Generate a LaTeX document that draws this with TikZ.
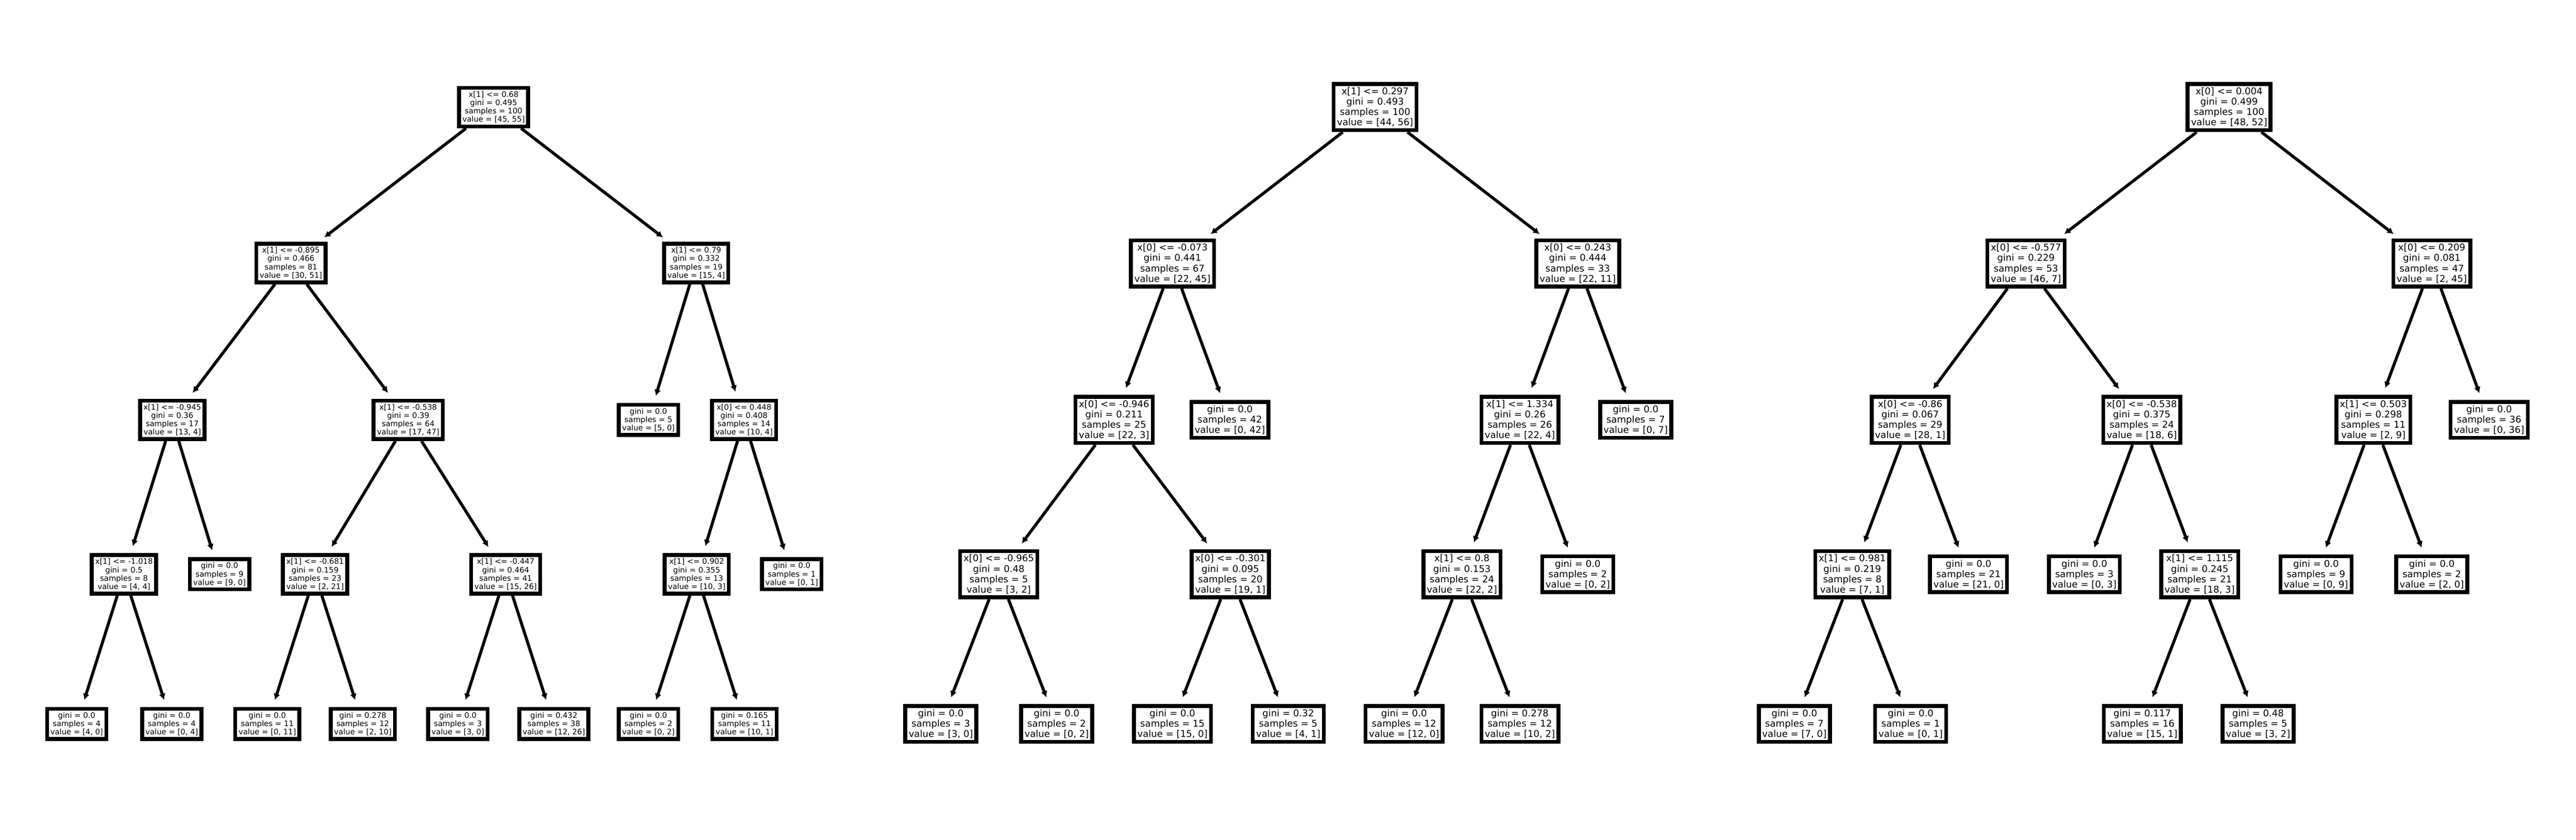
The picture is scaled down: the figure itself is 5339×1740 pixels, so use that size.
\documentclass[tikz,border=0pt]{standalone}
\usepackage{fontspec}
\setmainfont{DejaVu Sans}
\usetikzlibrary{arrows.meta}

\begin{document}
\begin{tikzpicture}[x=0.01cm, y=-0.01cm,
    box/.style={draw, fill=white, line width=0.08cm, inner sep=0.07cm, align=center},
    small/.style={box, font=\fontsize{4.5}{4.9}\selectfont},
    big/.style={box, font=\fontsize{5.5}{6.1}\selectfont},
    edge/.style={line width=0.062cm, -{Latex[length=0.13cm,width=0.14cm]}, shorten >=0.15cm}]
    \useasboundingbox (0,0) rectangle (5339,1740);

    %tree 1
    \node[small] (A) at (1023, 222) %
         {x[1] <= 0.68\\gini = 0.495\\samples = 100\\value = [45, 55]};
    \node[small] (AL) at (603, 545) %
         {x[1] <= -0.895\\gini = 0.466\\samples = 81\\value = [30, 51]};
    \node[small] (AR) at (1443, 545) %
         {x[1] <= 0.79\\gini = 0.332\\samples = 19\\value = [15, 4]};
    \node[small] (ALL) at (357, 870) %
         {x[1] <= -0.945\\gini = 0.36\\samples = 17\\value = [13, 4]};
    \node[small] (ALR) at (846, 870) %
         {x[1] <= -0.538\\gini = 0.39\\samples = 64\\value = [17, 47]};
    \node[small] (ARL) at (1344, 870) %
         {gini = 0.0\\samples = 5\\value = [5, 0]};
    \node[small] (ARR) at (1542, 870) %
         {x[0] <= 0.448\\gini = 0.408\\samples = 14\\value = [10, 4]};
    \node[small] (ALLL) at (257, 1190) %
         {x[1] <= -1.018\\gini = 0.5\\samples = 8\\value = [4, 4]};
    \node[small] (ALLR) at (455, 1190) %
         {gini = 0.0\\samples = 9\\value = [9, 0]};
    \node[small] (ALRL) at (653, 1190) %
         {x[1] <= -0.681\\gini = 0.159\\samples = 23\\value = [2, 21]};
    \node[small] (ALRR) at (1048, 1190) %
         {x[1] <= -0.447\\gini = 0.464\\samples = 41\\value = [15, 26]};
    \node[small] (ARRL) at (1444, 1190) %
         {x[1] <= 0.902\\gini = 0.355\\samples = 13\\value = [10, 3]};
    \node[small] (ARRR) at (1641, 1190) %
         {gini = 0.0\\samples = 1\\value = [0, 1]};
    \node[small] (ALLLL) at (159, 1500) %
         {gini = 0.0\\samples = 4\\value = [4, 0]};
    \node[small] (ALLLR) at (356, 1500) %
         {gini = 0.0\\samples = 4\\value = [0, 4]};
    \node[small] (ALRLL) at (554, 1500) %
         {gini = 0.0\\samples = 11\\value = [0, 11]};
    \node[small] (ALRLR) at (752, 1500) %
         {gini = 0.278\\samples = 12\\value = [2, 10]};
    \node[small] (ALRRL) at (949, 1500) %
         {gini = 0.0\\samples = 3\\value = [3, 0]};
    \node[small] (ALRRR) at (1148, 1500) %
         {gini = 0.432\\samples = 38\\value = [12, 26]};
    \node[small] (ARRLL) at (1344, 1500) %
         {gini = 0.0\\samples = 2\\value = [0, 2]};
    \node[small] (ARRLR) at (1543, 1500) %
         {gini = 0.165\\samples = 11\\value = [10, 1]};
    \draw[edge] (A) -- (AL);
    \draw[edge] (A) -- (AR);
    \draw[edge] (AL) -- (ALL);
    \draw[edge] (AL) -- (ALR);
    \draw[edge] (AR) -- (ARL);
    \draw[edge] (AR) -- (ARR);
    \draw[edge] (ALL) -- (ALLL);
    \draw[edge] (ALL) -- (ALLR);
    \draw[edge] (ALR) -- (ALRL);
    \draw[edge] (ALR) -- (ALRR);
    \draw[edge] (ARR) -- (ARRL);
    \draw[edge] (ARR) -- (ARRR);
    \draw[edge] (ALLL) -- (ALLLL);
    \draw[edge] (ALLL) -- (ALLLR);
    \draw[edge] (ALRL) -- (ALRLL);
    \draw[edge] (ALRL) -- (ALRLR);
    \draw[edge] (ALRR) -- (ALRRL);
    \draw[edge] (ALRR) -- (ALRRR);
    \draw[edge] (ARRL) -- (ARRLL);
    \draw[edge] (ARRL) -- (ARRLR);

    %tree 2
    \node[big] (B) at (2850, 222) %
         {x[1] <= 0.297\\gini = 0.493\\samples = 100\\value = [44, 56]};
    \node[big] (BL) at (2430, 546) %
         {x[0] <= -0.073\\gini = 0.441\\samples = 67\\value = [22, 45]};
    \node[big] (BR) at (3270, 546) %
         {x[0] <= 0.243\\gini = 0.444\\samples = 33\\value = [22, 11]};
    \node[big] (BLL) at (2309, 870) %
         {x[0] <= -0.946\\gini = 0.211\\samples = 25\\value = [22, 3]};
    \node[big] (BLR) at (2549, 870) %
         {gini = 0.0\\samples = 42\\value = [0, 42]};
    \node[big] (BRL) at (3150, 870) %
         {x[1] <= 1.334\\gini = 0.26\\samples = 26\\value = [22, 4]};
    \node[big] (BRR) at (3390, 870) %
         {gini = 0.0\\samples = 7\\value = [0, 7]};
    \node[big] (BLLL) at (2070, 1190) %
         {x[0] <= -0.965\\gini = 0.48\\samples = 5\\value = [3, 2]};
    \node[big] (BLLR) at (2550, 1190) %
         {x[0] <= -0.301\\gini = 0.095\\samples = 20\\value = [19, 1]};
    \node[big] (BRLL) at (3030, 1190) %
         {x[1] <= 0.8\\gini = 0.153\\samples = 24\\value = [22, 2]};
    \node[big] (BRLR) at (3270, 1190) %
         {gini = 0.0\\samples = 2\\value = [0, 2]};
    \node[big] (BLLLL) at (1950, 1500) %
         {gini = 0.0\\samples = 3\\value = [3, 0]};
    \node[big] (BLLLR) at (2190, 1500) %
         {gini = 0.0\\samples = 2\\value = [0, 2]};
    \node[big] (BLLRL) at (2430, 1500) %
         {gini = 0.0\\samples = 15\\value = [15, 0]};
    \node[big] (BLLRR) at (2670, 1500) %
         {gini = 0.32\\samples = 5\\value = [4, 1]};
    \node[big] (BRLLL) at (2910, 1500) %
         {gini = 0.0\\samples = 12\\value = [12, 0]};
    \node[big] (BRLLR) at (3150, 1500) %
         {gini = 0.278\\samples = 12\\value = [10, 2]};
    \draw[edge] (B) -- (BL);
    \draw[edge] (B) -- (BR);
    \draw[edge] (BL) -- (BLL);
    \draw[edge] (BL) -- (BLR);
    \draw[edge] (BR) -- (BRL);
    \draw[edge] (BR) -- (BRR);
    \draw[edge] (BLL) -- (BLLL);
    \draw[edge] (BLL) -- (BLLR);
    \draw[edge] (BRL) -- (BRLL);
    \draw[edge] (BRL) -- (BRLR);
    \draw[edge] (BLLL) -- (BLLLL);
    \draw[edge] (BLLL) -- (BLLLR);
    \draw[edge] (BLLR) -- (BLLRL);
    \draw[edge] (BLLR) -- (BLLRR);
    \draw[edge] (BRLL) -- (BRLLL);
    \draw[edge] (BRLL) -- (BRLLR);

    %tree 3
    \node[big] (C) at (4620, 222) %
         {x[0] <= 0.004\\gini = 0.499\\samples = 100\\value = [48, 52]};
    \node[big] (CL) at (4199, 546) %
         {x[0] <= -0.577\\gini = 0.229\\samples = 53\\value = [46, 7]};
    \node[big] (CR) at (5040, 546) %
         {x[0] <= 0.209\\gini = 0.081\\samples = 47\\value = [2, 45]};
    \node[big] (CLL) at (3959, 870) %
         {x[0] <= -0.86\\gini = 0.067\\samples = 29\\value = [28, 1]};
    \node[big] (CLR) at (4439, 870) %
         {x[0] <= -0.538\\gini = 0.375\\samples = 24\\value = [18, 6]};
    \node[big] (CRL) at (4919, 870) %
         {x[1] <= 0.503\\gini = 0.298\\samples = 11\\value = [2, 9]};
    \node[big] (CRR) at (5159, 870) %
         {gini = 0.0\\samples = 36\\value = [0, 36]};
    \node[big] (CLLL) at (3839, 1190) %
         {x[1] <= 0.981\\gini = 0.219\\samples = 8\\value = [7, 1]};
    \node[big] (CLLR) at (4080, 1190) %
         {gini = 0.0\\samples = 21\\value = [21, 0]};
    \node[big] (CLRL) at (4320, 1190) %
         {gini = 0.0\\samples = 3\\value = [0, 3]};
    \node[big] (CLRR) at (4559, 1190) %
         {x[1] <= 1.115\\gini = 0.245\\samples = 21\\value = [18, 3]};
    \node[big] (CRLL) at (4800, 1190) %
         {gini = 0.0\\samples = 9\\value = [0, 9]};
    \node[big] (CRLR) at (5040, 1190) %
         {gini = 0.0\\samples = 2\\value = [2, 0]};
    \node[big] (CLLLL) at (3719, 1500) %
         {gini = 0.0\\samples = 7\\value = [7, 0]};
    \node[big] (CLLLR) at (3960, 1500) %
         {gini = 0.0\\samples = 1\\value = [0, 1]};
    \node[big] (CLRRL) at (4440, 1500) %
         {gini = 0.117\\samples = 16\\value = [15, 1]};
    \node[big] (CLRRR) at (4680, 1500) %
         {gini = 0.48\\samples = 5\\value = [3, 2]};
    \draw[edge] (C) -- (CL);
    \draw[edge] (C) -- (CR);
    \draw[edge] (CL) -- (CLL);
    \draw[edge] (CL) -- (CLR);
    \draw[edge] (CR) -- (CRL);
    \draw[edge] (CR) -- (CRR);
    \draw[edge] (CLL) -- (CLLL);
    \draw[edge] (CLL) -- (CLLR);
    \draw[edge] (CLR) -- (CLRL);
    \draw[edge] (CLR) -- (CLRR);
    \draw[edge] (CRL) -- (CRLL);
    \draw[edge] (CRL) -- (CRLR);
    \draw[edge] (CLLL) -- (CLLLL);
    \draw[edge] (CLLL) -- (CLLLR);
    \draw[edge] (CLRR) -- (CLRRL);
    \draw[edge] (CLRR) -- (CLRRR);
\end{tikzpicture}
\end{document}
